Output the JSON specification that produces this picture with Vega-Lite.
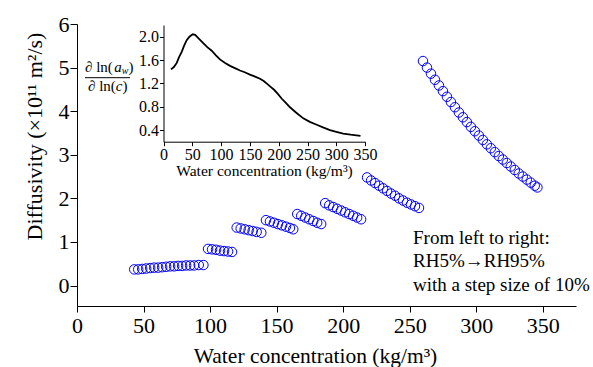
{
  "$schema": "https://vega.github.io/schema/vega-lite/v6.json",
  "width": 499,
  "height": 282,
  "autosize": "none",
  "padding": {"left": 77, "top": 24, "right": 17, "bottom": 61},
  "background": "white",
  "config": {
    "view": {"stroke": null},
    "font": "Liberation Serif",
    "text": {"font": "Liberation Serif"},
    "axis": {"grid": false, "domainColor": "black", "tickColor": "black", "labelColor": "black", "titleColor": "black", "labelFont": "Liberation Serif", "titleFont": "Liberation Serif", "titleFontWeight": "normal", "domainWidth": 1, "tickWidth": 1, "labelOverlap": false}
  },
  "datasets": {
    "diff": [
      {"c": 43, "D": 0.37}, {"c": 46, "D": 0.37}, {"c": 49, "D": 0.38}, {"c": 52, "D": 0.39}, {"c": 55, "D": 0.40}, {"c": 58, "D": 0.41}, {"c": 61, "D": 0.41}, {"c": 64, "D": 0.42}, {"c": 67, "D": 0.43}, {"c": 70, "D": 0.44}, {"c": 73, "D": 0.44}, {"c": 76, "D": 0.45}, {"c": 79, "D": 0.45}, {"c": 82, "D": 0.46}, {"c": 85, "D": 0.46}, {"c": 88, "D": 0.46}, {"c": 91.5, "D": 0.47}, {"c": 95, "D": 0.47},
      {"c": 98.5, "D": 0.84}, {"c": 101.5, "D": 0.83}, {"c": 104.5, "D": 0.82}, {"c": 107.5, "D": 0.80}, {"c": 110.5, "D": 0.79}, {"c": 113.5, "D": 0.78}, {"c": 116.5, "D": 0.77},
      {"c": 120, "D": 1.33}, {"c": 123, "D": 1.31}, {"c": 126, "D": 1.29}, {"c": 129, "D": 1.27}, {"c": 132, "D": 1.25}, {"c": 135, "D": 1.23}, {"c": 138.5, "D": 1.21},
      {"c": 142, "D": 1.50}, {"c": 145, "D": 1.47}, {"c": 148, "D": 1.44}, {"c": 151, "D": 1.41}, {"c": 154, "D": 1.38}, {"c": 157, "D": 1.35}, {"c": 160, "D": 1.32}, {"c": 162.5, "D": 1.29},
      {"c": 165.5, "D": 1.64}, {"c": 168.5, "D": 1.60}, {"c": 171.5, "D": 1.56}, {"c": 174.5, "D": 1.52}, {"c": 177.5, "D": 1.48}, {"c": 180.5, "D": 1.44}, {"c": 183.5, "D": 1.41},
      {"c": 186.5, "D": 1.89}, {"c": 189.5, "D": 1.84}, {"c": 192.5, "D": 1.80}, {"c": 195.5, "D": 1.76}, {"c": 198.5, "D": 1.72}, {"c": 201.5, "D": 1.68}, {"c": 204.5, "D": 1.64}, {"c": 207.5, "D": 1.60}, {"c": 210.5, "D": 1.56}, {"c": 213.5, "D": 1.52},
      {"c": 218, "D": 2.48}, {"c": 221, "D": 2.41}, {"c": 224, "D": 2.35}, {"c": 227, "D": 2.29}, {"c": 230, "D": 2.23}, {"c": 233, "D": 2.17}, {"c": 236, "D": 2.11}, {"c": 239, "D": 2.06}, {"c": 242, "D": 2.00}, {"c": 245, "D": 1.95}, {"c": 248, "D": 1.90}, {"c": 251, "D": 1.86}, {"c": 254, "D": 1.82}, {"c": 257, "D": 1.78},
      {"c": 260, "D": 5.15}, {"c": 263, "D": 5.00}, {"c": 266, "D": 4.86}, {"c": 269, "D": 4.72}, {"c": 272, "D": 4.59}, {"c": 275, "D": 4.46}, {"c": 278, "D": 4.33}, {"c": 281, "D": 4.21}, {"c": 284, "D": 4.09}, {"c": 287, "D": 3.97}, {"c": 290, "D": 3.86}, {"c": 293, "D": 3.75}, {"c": 296, "D": 3.64}, {"c": 299, "D": 3.54}, {"c": 302, "D": 3.44}, {"c": 305, "D": 3.34}, {"c": 308, "D": 3.24}, {"c": 311, "D": 3.15}, {"c": 314, "D": 3.06}, {"c": 317, "D": 2.97}, {"c": 320, "D": 2.89}, {"c": 323, "D": 2.81}, {"c": 326, "D": 2.73}, {"c": 329, "D": 2.65}, {"c": 332, "D": 2.57}, {"c": 335, "D": 2.50}, {"c": 338, "D": 2.43}, {"c": 341, "D": 2.36}, {"c": 344, "D": 2.29}, {"c": 346, "D": 2.25}
    ],
    "thermo": [
      {"c": 13, "r": 1.44}, {"c": 18, "r": 1.48}, {"c": 23, "r": 1.55}, {"c": 27, "r": 1.65}, {"c": 31.6, "r": 1.74}, {"c": 36, "r": 1.85}, {"c": 40.3, "r": 1.94}, {"c": 45, "r": 2.00}, {"c": 50.7, "r": 2.04}, {"c": 55, "r": 2.03}, {"c": 60, "r": 1.98}, {"c": 69, "r": 1.89}, {"c": 76, "r": 1.82}, {"c": 83.7, "r": 1.76}, {"c": 91, "r": 1.68}, {"c": 98, "r": 1.61}, {"c": 107, "r": 1.55}, {"c": 115.5, "r": 1.50}, {"c": 124, "r": 1.46}, {"c": 132.8, "r": 1.42}, {"c": 141, "r": 1.39}, {"c": 150, "r": 1.35}, {"c": 158, "r": 1.32}, {"c": 167.5, "r": 1.28}, {"c": 174, "r": 1.24}, {"c": 180, "r": 1.19}, {"c": 186, "r": 1.14}, {"c": 192, "r": 1.09}, {"c": 198.5, "r": 1.02}, {"c": 205, "r": 0.94}, {"c": 212, "r": 0.87}, {"c": 219.6, "r": 0.79}, {"c": 230, "r": 0.70}, {"c": 242.7, "r": 0.60}, {"c": 254, "r": 0.54}, {"c": 266, "r": 0.49}, {"c": 278, "r": 0.44}, {"c": 289, "r": 0.40}, {"c": 300, "r": 0.37}, {"c": 312, "r": 0.34}, {"c": 325, "r": 0.32}, {"c": 335, "r": 0.31}, {"c": 342, "r": 0.30}
    ],
    "one": [{"k": 1}]
  },
  "layer": [
    {
      "layer": [
        {
          "data": {"name": "diff"},
          "mark": {"type": "point", "shape": "circle", "filled": false, "stroke": "#0000ff", "strokeWidth": 1, "size": 90, "opacity": 1},
          "encoding": {
            "x": {"field": "c", "type": "quantitative",
              "scale": {"domain": [0, 375], "nice": false, "zero": false},
              "axis": {"orient": "bottom", "values": [0, 25, 50, 75, 100, 125, 150, 175, 200, 225, 250, 275, 300, 325, 350, 375],
                "labelExpr": "datum.value % 50 === 0 ? datum.label : ''",
                "tickSize": {"condition": {"test": "datum.value % 50 === 0", "value": 6}, "value": 3.5},
                "labelFont": "Liberation Serif", "labelFontSize": 22, "labelPadding": 3, "labelFlush": false, "labelOverlap": false,
                "title": "Water concentration (kg/m³)", "titleFont": "Liberation Serif", "titleFontSize": 21.5, "titleX": 238, "titleY": 56, "titleBaseline": "alphabetic", "titleAlign": "center"}},
            "y": {"field": "D", "type": "quantitative",
              "scale": {"domain": [-0.47, 6], "nice": false, "zero": false},
              "axis": {"orient": "left", "values": [0, 0.5, 1, 1.5, 2, 2.5, 3, 3.5, 4, 4.5, 5, 5.5, 6],
                "labelExpr": "datum.value % 1 === 0 ? datum.label : ''",
                "tickSize": {"condition": {"test": "datum.value % 1 === 0", "value": 7}, "value": 3.5},
                "labelFont": "Liberation Serif", "labelFontSize": 22, "labelPadding": 1, "labelFlush": false, "labelBaseline": "middle", "labelOverlap": false,
                "title": "Diffusivity (×10¹¹ m²/s)", "titleFont": "Liberation Serif", "titleFontSize": 22, "titleAngle": -90, "titleX": -43, "titleY": 112, "titleAlign": "center", "titleBaseline": "middle"}}
          }
        },
        {
          "data": {"name": "one"},
          "mark": {"type": "text", "align": "left", "baseline": "alphabetic", "fontSize": 19, "lineHeight": 23.5, "font": "Liberation Serif", "color": "black"},
          "encoding": {
            "x": {"datum": 252.5, "type": "quantitative"},
            "y": {"datum": 0.953, "type": "quantitative"},
            "text": {"value": ["From left to right:", "RH5%→RH95%", "with a step size of 10%"]}
          }
        }
      ]
    },
    {
      "layer": [
        {
          "data": {"name": "thermo"},
          "mark": {"type": "line", "color": "black", "strokeWidth": 1.8},
          "encoding": {
            "x": {"field": "c", "type": "quantitative",
              "scale": {"domain": [0, 350], "range": [86.5, 288.1], "nice": false, "zero": false},
              "axis": {"orient": "bottom", "offset": -164.3, "values": [0, 25, 50, 75, 100, 125, 150, 175, 200, 225, 250, 275, 300, 325, 350],
                "labelExpr": "datum.value % 50 === 0 ? datum.label : ''",
                "tickSize": {"condition": {"test": "datum.value % 50 === 0", "value": 4}, "value": 2},
                "labelFont": "Liberation Serif", "labelFontSize": 16, "labelPadding": 1, "labelFlush": false, "labelOverlap": false,
                "title": "Water concentration (kg/m³)", "titleFont": "Liberation Serif", "titleFontSize": 15.6, "titleX": 187, "titleY": 34, "titleBaseline": "alphabetic", "titleAlign": "center"}},
            "y": {"field": "r", "type": "quantitative",
              "scale": {"domain": [0.2, 2.2], "range": [117.7, 1], "nice": false, "zero": false},
              "axis": {"orient": "left", "offset": -86.5, "values": [0.4, 0.8, 1.2, 1.6, 2.0],
                "format": ".1f", "tickSize": 4,
                "labelFont": "Liberation Serif", "labelFontSize": 16, "labelPadding": 1, "labelFlush": false, "labelBaseline": "middle", "labelOverlap": false,
                "title": null}}
          }
        },
        {
          "data": {"name": "one"},
          "mark": {"type": "text", "align": "left", "baseline": "alphabetic", "fontSize": 15, "font": "Liberation Serif", "color": "black"},
          "encoding": {"x": {"datum": -136.3, "type": "quantitative"}, "y": {"datum": 1.403, "type": "quantitative"}, "text": {"value": "∂ ln("}}
        },
        {
          "data": {"name": "one"},
          "mark": {"type": "text", "align": "left", "baseline": "alphabetic", "fontSize": 15, "fontStyle": "italic", "font": "Liberation Serif", "color": "black"},
          "encoding": {"x": {"datum": -85.6, "type": "quantitative"}, "y": {"datum": 1.403, "type": "quantitative"}, "text": {"value": "a"}}
        },
        {
          "data": {"name": "one"},
          "mark": {"type": "text", "align": "left", "baseline": "alphabetic", "fontSize": 10, "fontStyle": "italic", "font": "Liberation Serif", "color": "black"},
          "encoding": {"x": {"datum": -72.5, "type": "quantitative"}, "y": {"datum": 1.352, "type": "quantitative"}, "text": {"value": "w"}}
        },
        {
          "data": {"name": "one"},
          "mark": {"type": "text", "align": "left", "baseline": "alphabetic", "fontSize": 15, "font": "Liberation Serif", "color": "black"},
          "encoding": {"x": {"datum": -60.9, "type": "quantitative"}, "y": {"datum": 1.403, "type": "quantitative"}, "text": {"value": ")"}}
        },
        {
          "data": {"name": "one"},
          "mark": {"type": "rule", "color": "black", "strokeWidth": 1},
          "encoding": {"x": {"datum": -136.3, "type": "quantitative"}, "x2": {"datum": -58.2}, "y": {"datum": 1.297, "type": "quantitative"}}
        },
        {
          "data": {"name": "one"},
          "mark": {"type": "text", "align": "left", "baseline": "alphabetic", "fontSize": 15, "font": "Liberation Serif", "color": "black"},
          "encoding": {"x": {"datum": -131.1, "type": "quantitative"}, "y": {"datum": 1.069, "type": "quantitative"}, "text": {"value": "∂ ln("}}
        },
        {
          "data": {"name": "one"},
          "mark": {"type": "text", "align": "left", "baseline": "alphabetic", "fontSize": 15, "fontStyle": "italic", "font": "Liberation Serif", "color": "black"},
          "encoding": {"x": {"datum": -82.8, "type": "quantitative"}, "y": {"datum": 1.069, "type": "quantitative"}, "text": {"value": "c"}}
        },
        {
          "data": {"name": "one"},
          "mark": {"type": "text", "align": "left", "baseline": "alphabetic", "fontSize": 15, "font": "Liberation Serif", "color": "black"},
          "encoding": {"x": {"datum": -71.2, "type": "quantitative"}, "y": {"datum": 1.069, "type": "quantitative"}, "text": {"value": ")"}}
        }
      ]
    }
  ],
  "resolve": {"scale": {"x": "independent", "y": "independent"}, "axis": {"x": "independent", "y": "independent"}}
}
